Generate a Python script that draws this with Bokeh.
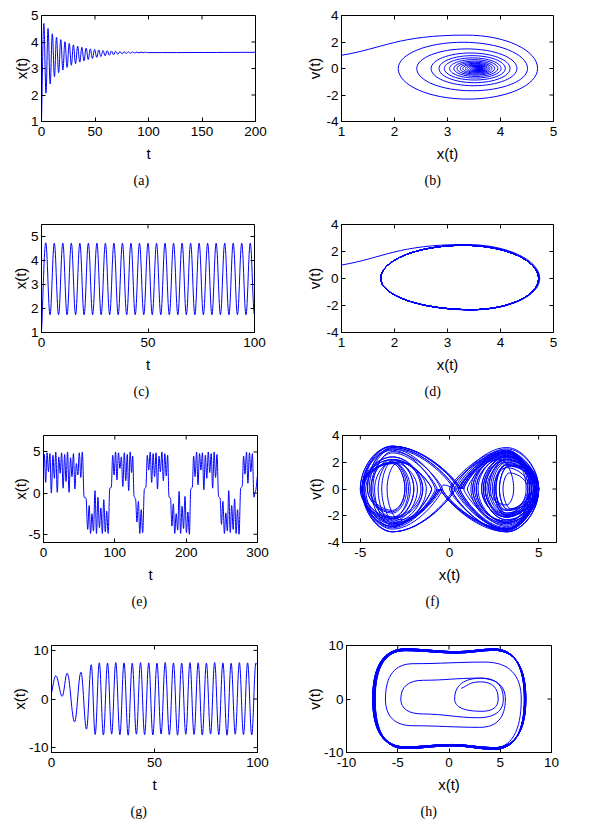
import numpy as np
from bokeh.plotting import figure
from bokeh.models import FixedTicker, Range1d, Title, ColumnDataSource
from bokeh.layouts import column, row
from bokeh.embed import file_html
from bokeh.resources import INLINE

BLUE = "#0000ff"

# ---------------- tick labels / captions ----------------
a_xticks = [0, 50, 100, 150, 200]; a_yticks = [1, 2, 3, 4, 5]
b_xticks = [1, 2, 3, 4, 5];        b_yticks = [-4, -2, 0, 2, 4]
c_xticks = [0, 50, 100];           c_yticks = [1, 2, 3, 4, 5]
d_xticks = [1, 2, 3, 4, 5];        d_yticks = [-4, -2, 0, 2, 4]
e_xticks = [0, 100, 200, 300];     e_yticks = [-5, 0, 5]
f_xticks = [-5, 0, 5];             f_yticks = [-4, -2, 0, 2, 4]
g_xticks = [0, 50, 100];           g_yticks = [-10, 0, 10]
h_xticks = [-10, -5, 0, 5, 10];    h_yticks = [-10, 0, 10]
captions = ["(a)", "(b)", "(c)", "(d)", "(e)", "(f)", "(g)", "(h)"]

# ---------------- (a)/(b): decaying oscillation ----------------
ab_start = (1.0, 1.0)          # x(0), v(0)
ab_top0_x = 3.35
ab_right = [4.70, 4.51, 4.31, 4.18, 4.09, 4.01, 3.95, 3.89, 3.84, 3.80, 3.77, 3.74, 3.72,
            3.70, 3.68, 3.67, 3.66, 3.65, 3.64, 3.635, 3.63, 3.625, 3.62, 3.617, 3.615]
ab_left = [2.07, 2.42, 2.69, 2.84, 2.94, 3.04, 3.12, 3.18, 3.24, 3.29, 3.34, 3.38, 3.42,
           3.45, 3.48, 3.50, 3.52, 3.54, 3.55, 3.565, 3.575, 3.585, 3.59, 3.595, 3.60]
ab_top = [2.52, 1.98, 1.48, 1.17, 0.97, 0.80, 0.67, 0.56, 0.47, 0.39, 0.33, 0.27, 0.23,
          0.19, 0.16, 0.13, 0.11, 0.09, 0.075, 0.06, 0.05, 0.04, 0.035, 0.03, 0.025]
ab_bottom = [-2.31, -1.68, -1.30, -1.07, -0.87, -0.72, -0.60, -0.50, -0.42, -0.35, -0.29,
             -0.24, -0.20, -0.17, -0.14, -0.12, -0.10, -0.08, -0.065, -0.055, -0.045,
             -0.037, -0.03, -0.025, -0.02]
ab_t_right = [2.2, 6.1, 10.1, 14.0, 18.0, 21.9, 25.9, 29.8, 33.8, 37.7, 41.7, 45.6, 49.6,
              53.5, 57.5, 61.4, 65.4, 69.3, 73.3, 77.2, 81.2, 85.1, 89.1, 93.0, 97.0]
ab_t_left = [4.2, 8.1, 12.1, 16.0, 20.0, 23.9, 27.9, 31.8, 35.8, 39.7, 43.7, 47.6, 51.6,
             55.5, 59.5, 63.4, 67.4, 71.3, 75.3, 79.2, 83.2, 87.1, 91.1, 95.0, 99.0]
ab_end = (200.0, 3.61)

# ---------------- (c)/(d): limit cycle ----------------
cd_start = (1.0, 1.0)
cd_right = [4.74] + [4.72] * 24
cd_left = [1.74] * 25
cd_top = [2.52] + [2.46] * 24
cd_top_x = [3.35] + [3.30] * 24
cd_bottom = [-2.33] + [-2.31] * 24
cd_bottom_x = [3.45] * 25
cd_t_right = [2, 6, 10, 14, 18, 22, 26, 30, 34, 38, 42, 46, 50, 54, 58, 62, 66, 70, 74,
              78, 82, 86, 90, 94, 98]
cd_t_left = [4, 8, 12, 16, 20, 24, 28, 32, 36, 40, 44, 48, 52, 56, 60, 64, 68, 72, 76,
             80, 84, 88, 92, 96, 100]

# ---------------- (e)/(f): chaotic double-well motion (extrema of x) ----------------
e_t = [0, 1.2, 3.0, 5.0, 7.0, 9.0, 11.0, 13.2, 15.2, 17.2, 19.3, 21.4, 23.4, 25.4, 27.5, 29.6,
       31.6, 33.7, 35.8, 37.9, 39.9, 42.0, 44.0, 46.1, 48.1, 50.2, 52.3, 54.4, 57.0, 59.5,
       62.0, 64.0, 66.0, 68.0, 70.0, 72.2, 74.3, 76.3, 78.4, 80.4, 82.5, 84.5, 86.6, 88.6,
       90.6, 93.0, 95.0,
       97.0, 99.0, 101.0, 103.0, 105.1, 107.1, 109.2, 111.2, 113.3, 115.3, 117.4, 119.4,
       121.5, 123.5, 125.0, 127.0, 129.0,
       131.0, 133.0, 135.0, 137.0, 139.0, 141.5, 143.5,
       145.5, 147.5, 149.6, 151.6, 153.7, 155.7, 157.8, 159.8, 161.9, 163.9, 166.0, 168.0,
       170.1, 172.1, 174.0, 176.0, 178.0,
       180.0, 182.0, 184.0, 186.0, 188.1, 190.1, 192.2, 194.2, 196.3, 198.3, 200.4, 202.4,
       204.5, 206.5, 208.5,
       210.5, 212.5, 214.6, 216.6, 218.7, 220.7, 222.8, 224.8, 226.9, 228.9, 231.0, 233.0,
       235.1, 237.1, 239.2, 241.2, 243.2, 245.5, 247.5,
       249.5, 251.5, 253.6, 255.6, 257.7, 259.7, 261.8, 263.8, 265.9, 267.9, 270.0, 272.0,
       274.1, 276.5, 278.5,
       280.5, 282.5, 284.6, 286.6, 288.7, 290.7, 292.8, 295.0, 297.0, 300.0]
e_x = [2.8, 4.7, 1.3, 4.9, 2.6, 4.8, 0.0, 4.6, 1.8, 5.0, 0.1, 4.4, 2.4, 4.9, 0.6, 4.7, 1.4,
       5.0, 0.1, 4.3, 2.0, 4.8, 0.5, 3.6, 2.2, 4.9, 1.9, 5.0, -0.5, -0.6,
       -4.4, -1.5, -4.9, -2.5, -4.6, 0.3, -4.9, -0.5, -4.2, -1.8, -4.9, -0.8, -4.7, -2.2,
       -4.9, 0.6, 0.7,
       4.6, 2.2, 5.0, 1.6, 4.9, 3.0, 4.4, 0.8, 4.9, 1.5, 4.7, 0.3, 5.0, 2.5, 4.5, -0.4, -0.7,
       -3.5, -1.0, -4.9, -2.0, -4.8, 0.5, 0.7,
       4.6, 2.8, 5.0, 1.3, 4.8, 2.0, 4.9, 0.5, 4.5, 2.6, 5.0, 1.5, 4.8, 2.1, 4.6, -0.5, -0.6,
       -4.0, -1.3, -4.9, -2.5, -4.5, 0.2, -4.9, -1.6, -4.3, -0.4, -4.8, -2.3, -5.0, 0.5, 0.7,
       4.5, 2.0, 5.0, 1.0, 4.8, 2.8, 4.9, 0.4, 4.6, 1.8, 5.0, 2.5, 4.8, 0.6, 5.0, 1.9, 4.7,
       -0.4, -0.6,
       -3.8, -1.0, -4.9, -2.4, -4.6, 0.3, -4.8, -1.5, -4.4, -0.7, -4.9, -2.0, -5.0, 0.6, 0.8,
       4.5, 2.3, 5.0, 1.2, 4.9, 2.6, 4.8, -0.5, 0.2, 2.2]
# velocity extreme between consecutive x-extrema (points 1..145 of e_x)
f_v = [-2.4, 2.5, -1.9, 1.8, -3.1, 2.9, -2.1, 2.4, -3.2, 2.8, -1.6, 2.0, -3.0, 2.8, -2.4, 2.6,
       -3.2, 2.7, -1.9, 2.2, -3.0, 2.2, -1.2, 2.2, -2.3, 2.4, -3.2, -0.15,
       -2.7, 2.2, -2.5, 1.9, -1.7, 3.1, -3.2, 3.0, -2.7, 2.0, -2.4, 2.9, -2.8, 2.0, -2.1, 3.2,
       0.15,
       2.8, -1.9, 2.2, -2.5, 2.5, -1.5, 1.2, -2.6, 2.8, -2.5, 2.4, -3.0, 3.1, -2.0, 1.6, -3.0,
       -0.15,
       -2.3, 2.0, -2.8, 2.2, -2.2, 3.2, 0.12,
       2.8, -1.5, 1.8, -2.6, 2.5, -2.1, 2.2, -3.0, 2.8, -1.6, 1.9, -2.5, 2.4, -2.1, 2.0, -3.0,
       -0.12,
       -2.6, 2.1, -2.6, 1.9, -1.6, 3.0, -3.2, 2.4, -2.1, 2.8, -3.0, 2.0, -2.2, 3.2, 0.12,
       2.7, -2.0, 2.3, -2.8, 2.7, -1.6, 1.7, -3.0, 2.9, -2.1, 2.4, -2.0, 1.8, -2.9, 3.0, -2.3,
       2.2, -3.0, -0.12,
       -2.5, 2.2, -2.8, 2.0, -1.8, 3.1, -3.2, 2.4, -2.2, 2.7, -2.9, 2.2, -2.3, 3.2, 0.12,
       2.7, -1.8, 2.1, -2.7, 2.6, -1.8, 1.8, -3.1, 0.3]
f_well_x = 3.2   # position of the well bottoms

# ---------------- (g)/(h): growth to a large cycle ----------------
g_t_early = [0, 2.1, 5.2, 7.6, 11.2, 14.3, 17.0, 19.3]
g_x_early = [1.2, 4.8, 0.55, 5.3, -4.7, 5.5, -6.2, 7.05]
g_t_trough = [21.2, 25.2, 29.2, 33.2, 37.2, 41.2, 45.2, 49.2, 53.2, 57.2, 61.2, 65.2, 69.2,
              73.2, 77.2, 81.2, 85.2, 89.2, 93.2, 97.2]
g_t_peak = [23.2, 27.2, 31.2, 35.2, 39.2, 43.2, 47.2, 51.2, 55.2, 59.2, 63.2, 67.2, 71.2,
            75.2, 79.2, 83.2, 87.2, 91.2, 95.2, 99.2]
g_trough = [-7.3, -7.42, -7.22, -7.35, -7.45, -7.25, -7.32, -7.4, -7.2, -7.35, -7.44, -7.26,
            -7.3, -7.42, -7.22, -7.35, -7.45, -7.25, -7.32, -7.4]
g_peak = [7.45, 7.38, 7.5, 7.42, 7.35, 7.48, 7.44, 7.36, 7.5, 7.42, 7.38, 7.47, 7.45, 7.38,
          7.5, 7.42, 7.35, 7.48, 7.44, 7.36]
g_end = (100.0, 7.0)
h_start_v = 2.0
h_early_mid = [[(3.1, 3.2)], [(3.2, -2.3)], [(3.2, 3.9)], [(2.8, -3.5), (-2.5, -2.8)],
               [(-2.5, 3.5), (2.8, 3.9)], [(3.0, -5.3), (-3.5, -5.0)],
               [(-3.5, 6.6), (3.5, 6.9)], [(4.2, -9.2), (0.3, -8.6), (-4.2, -9.0)]]
h_top_x = [-4.3, 0.8, 4.4]
h_top_v = [[9.2, 8.7, 9.25], [9.35, 8.85, 9.35], [9.05, 8.6, 9.1]]
h_bot_x = [4.4, 0.3, -4.3]
h_bot_v = [[-9.25, -8.6, -9.1], [-9.4, -8.75, -9.25], [-9.1, -8.5, -8.95]]


# ---------------- curve construction (cubic Bezier pieces through the points) -------------
def bezier_source(xs, ys, tans, k_same=0.38, k_mix=0.55, inner=None):
    d = {k: [] for k in ("x0", "y0", "x1", "y1", "cx0", "cy0", "cx1", "cy1")}
    n = len(xs)
    for i in range(n - 1):
        xa, ya, xb, yb = xs[i], ys[i], xs[i + 1], ys[i + 1]
        ta, tb = tans[i], tans[i + 1]
        k = k_same if ta == tb else k_mix
        if ta == "h":
            c0 = (xa + k * (xb - xa), ya)
        elif ta == "v":
            kk = inner[1] if (inner and abs(xa) < inner[0]) else k
            c0 = (xa, ya + kk * (yb - ya))
        else:
            if i > 0:
                c0 = (xa + (xb - xs[i - 1]) / 6, ya + (yb - ys[i - 1]) / 6)
            else:
                c0 = (xa + (xb - xa) / 3, ya + (yb - ya) / 3)
        if tb == "h":
            c1 = (xb - k * (xb - xa), yb)
        elif tb == "v":
            kk = inner[1] if (inner and abs(xb) < inner[0]) else k
            c1 = (xb, yb - kk * (yb - ya))
        else:
            if i + 2 < n:
                c1 = (xb - (xs[i + 2] - xa) / 6, yb - (ys[i + 2] - ya) / 6)
            else:
                c1 = (xb - (xb - xa) / 3, yb - (yb - ya) / 3)
        for key, val in zip(("x0", "y0", "x1", "y1", "cx0", "cy0", "cx1", "cy1"),
                            (xa, ya, xb, yb, c0[0], c0[1], c1[0], c1[1])):
            d[key].append(val)
    return ColumnDataSource(d)


def interleave(a, b):
    out = []
    for p, q in zip(a, b):
        out += [p, q]
    return out


def phase_path(start, exts, mids):
    xs, ys, tans = [start[0]], [start[1]], [start[2]]
    for ext, mid in zip(exts, mids):
        for mx, mv in mid:
            xs.append(mx); ys.append(mv); tans.append("h")
        xs.append(ext); ys.append(0.0); tans.append("v")
    return xs, ys, tans


# (a)
a_xs = [0.0] + interleave(ab_t_right, ab_t_left) + [ab_end[0]]
a_ys = [ab_start[0]] + interleave(ab_right, ab_left) + [ab_end[1]]
a_tans = ["c"] + ["h"] * 50 + ["c"]
src_a = bezier_source(a_xs, a_ys, a_tans, k_same=0.38, k_mix=0.38)
# (b)
b_exts, b_mids = [], []
for k in range(25):
    tx = ab_top0_x if k == 0 else 0.5 * (ab_left[k - 1] + ab_right[k])
    b_exts.append(ab_right[k]); b_mids.append([(tx, ab_top[k])])
    b_exts.append(ab_left[k]); b_mids.append([(0.5 * (ab_right[k] + ab_left[k]), ab_bottom[k])])
src_b = bezier_source(*phase_path((ab_start[0], ab_start[1], "c"), b_exts, b_mids))
# (c)
c_xs = [0.0] + interleave(cd_t_right, cd_t_left)
c_ys = [cd_start[0]] + interleave(cd_right, cd_left)
c_tans = ["c"] + ["h"] * 50
src_c = bezier_source(c_xs, c_ys, c_tans, k_same=0.38, k_mix=0.38)
# (d)
d_exts, d_mids = [], []
for k in range(25):
    d_exts.append(cd_right[k]); d_mids.append([(cd_top_x[k], cd_top[k])])
    d_exts.append(cd_left[k]); d_mids.append([(cd_bottom_x[k], cd_bottom[k])])
src_d = bezier_source(*phase_path((cd_start[0], cd_start[1], "c"), d_exts, d_mids))
# (e)
src_e = bezier_source(e_t, e_x, ["c"] + ["h"] * (len(e_t) - 2) + ["c"], k_same=0.38, k_mix=0.38)
# (f)
f_exts, f_mids = [], []
for j in range(2, 146):
    a_, b_ = e_x[j - 1], e_x[j]
    lo, hi = min(a_, b_), max(a_, b_)
    span = hi - lo
    target = f_well_x if (a_ + b_) >= 0 else -f_well_x
    xv = min(max(target, lo + 0.25 * span), hi - 0.25 * span)
    f_exts.append(b_); f_mids.append([(xv, f_v[j - 2])])
src_f = bezier_source(*phase_path((e_x[1], 0.0, "v"), f_exts, f_mids),
                      k_same=0.38, k_mix=0.5, inner=(1.2, 0.12))
# (g)
g_xs = g_t_early + interleave(g_t_trough, g_t_peak) + [g_end[0]]
g_ys = g_x_early + interleave(g_trough, g_peak) + [g_end[1]]
g_tans = ["c"] + ["h"] * (len(g_xs) - 2) + ["c"]
src_g = bezier_source(g_xs, g_ys, g_tans, k_same=0.38, k_mix=0.38)
# (h)
h_exts = g_x_early[1:] + [g_trough[0]]
h_mids = list(h_early_mid)
for k in range(20):
    h_exts.append(g_peak[k])
    h_mids.append([(h_top_x[m], h_top_v[k % 3][m]) for m in range(3)])
    if k + 1 < 20:
        h_exts.append(g_trough[k + 1])
        h_mids.append([(h_bot_x[m], h_bot_v[k % 3][m]) for m in range(3)])
src_h = bezier_source(*phase_path((g_x_early[0], h_start_v, "c"), h_exts, h_mids),
                      k_same=0.38, k_mix=0.66)


# ---------------- figures ----------------
def make_fig(src, xr, yr, xt, yt, xlab, ylab, cap, cap_off, fw, fh, bl, br, bt, bb, ylab_so):
    p = figure(frame_width=fw, frame_height=fh, x_range=Range1d(*xr), y_range=Range1d(*yr),
               output_backend="svg", toolbar_location=None, title=None,
               min_border_left=bl, min_border_right=br, min_border_top=bt, min_border_bottom=bb,
               background_fill_color="white", border_fill_color="white")
    p.grid.visible = False
    p.outline_line_color = "black"
    p.outline_line_width = 1
    p.outline_line_alpha = 1.0
    p.bezier(x0="x0", y0="y0", x1="x1", y1="y1", cx0="cx0", cy0="cy0", cx1="cx1", cy1="cy1",
             source=src, line_color=BLUE, line_width=1)
    # inward ticks on the top and right edges (mirror of the bottom / left ticks)
    p.ray(x=xt, y=[yr[1]] * len(xt), length=4, length_units="screen", angle=-np.pi / 2,
          line_color="black", line_width=1)
    p.ray(x=[xr[1]] * len(yt), y=yt, length=4, length_units="screen", angle=np.pi,
          line_color="black", line_width=1)
    for ax, ticks in ((p.xaxis[0], xt), (p.yaxis[0], yt)):
        ax.ticker = FixedTicker(ticks=ticks)
        ax.major_label_overrides = {t: str(t) for t in ticks}
        ax.major_tick_in = 4
        ax.major_tick_out = 0
        ax.minor_tick_in = 0
        ax.minor_tick_out = 0
        ax.axis_line_color = "black"
        ax.major_tick_line_color = "black"
        ax.major_label_text_font = "Liberation Sans"
        ax.major_label_text_font_size = "13.5px"
        ax.major_label_text_color = "black"
        ax.axis_label_text_font = "Liberation Sans"
        ax.axis_label_text_font_size = "15px"
        ax.axis_label_text_font_style = "normal"
        ax.axis_label_text_color = "black"
    p.xaxis[0].axis_label = xlab
    p.yaxis[0].axis_label = ylab
    p.xaxis[0].major_label_standoff = 5
    p.xaxis[0].axis_label_standoff = 6
    p.yaxis[0].major_label_standoff = 3
    p.yaxis[0].axis_label_standoff = ylab_so
    t = Title(text=cap, align="left", offset=cap_off, text_font="Liberation Serif",
              text_font_size="14px", text_font_style="normal", text_color="black", standoff=13)
    p.add_layout(t, "below")
    return p


pa = make_fig(src_a, (0, 200), (1, 5), a_xticks, a_yticks, "t", "x(t)", captions[0], 92,
              214, 106, 41, 35, 15, 95, -2)
pb = make_fig(src_b, (1, 5), (-4, 4), b_xticks, b_yticks, "x(t)", "v(t)", captions[1], 83,
              212, 106, 51, 10, 15, 95, 0)
pc = make_fig(src_c, (0, 100), (1, 5.5), c_xticks, c_yticks, "t", "x(t)", captions[2], 92,
              213, 108, 41, 36, 8, 92, -1)
pd = make_fig(src_d, (1, 5), (-4, 4), d_xticks, d_yticks, "x(t)", "v(t)", captions[3], 83,
              212, 108, 51, 10, 8, 92, 0)
pe = make_fig(src_e, (0, 300), (-6, 7), e_xticks, e_yticks, "t", "x(t)", captions[4], 88,
              214, 107, 43, 33, 11, 92, -4)
pf = make_fig(src_f, (-6, 6), (-4, 4), f_xticks, f_yticks, "x(t)", "v(t)", captions[5], 83,
              214, 107, 52, 10, 11, 92, 0)
pg = make_fig(src_g, (0, 100), (-11, 11), g_xticks, g_yticks, "t", "x(t)", captions[6], 79,
              206, 107, 51, 33, 11, 66, -2)
ph = make_fig(src_h, (-10, 10), (-10, 10), h_xticks, h_yticks, "x(t)", "v(t)", captions[7], 74,
              205, 107, 56, 10, 11, 66, -2)

layout = column(row(pa, pb), row(pc, pd), row(pe, pf), row(pg, ph))
open("out.html", "w").write(file_html(layout, INLINE))
